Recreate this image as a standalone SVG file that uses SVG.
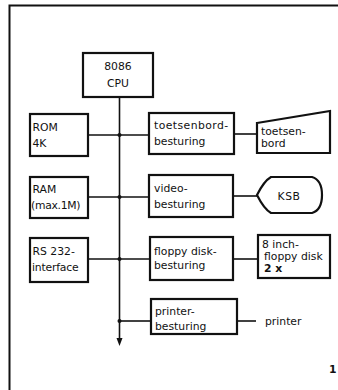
<svg xmlns="http://www.w3.org/2000/svg" width="338" height="390" viewBox="0 0 338 390">
<defs>
<style>
.box{fill:#fff;stroke:#111;stroke-width:2.2}
.ln{fill:none;stroke:#111;stroke-width:1.6}
text{font-family:"DejaVu Sans","Liberation Sans",sans-serif;font-size:10.8px;fill:#111}
.c{text-anchor:middle}
</style>
</defs>
<rect width="338" height="390" fill="#fff"/>
<path d="M9.5,390 V5.5 H338" fill="none" stroke="#111" stroke-width="2"/>
<g id="connectors">
<path class="ln" d="M119.5,97 V338"/>
<path d="M116.5,338 L122.5,338 L119.5,346 Z" fill="#111"/>
<path class="ln" d="M88,135 H149"/>
<path class="ln" d="M88,197 H149"/>
<path class="ln" d="M88,259 H150"/>
<path class="ln" d="M119.5,321 H151"/>
<path class="ln" d="M234,134 H257"/>
<path class="ln" d="M233,196 H257"/>
<path class="ln" d="M233,259 H258"/>
<path class="ln" d="M237,321 H256"/>
<circle cx="119.5" cy="135" r="2" fill="#111"/>
<circle cx="119.5" cy="197" r="2" fill="#111"/>
<circle cx="119.5" cy="259" r="2" fill="#111"/>
<circle cx="119.5" cy="321" r="2" fill="#111"/>
</g>
<g id="cpu">
<rect class="box" x="83" y="53" width="70" height="44"/>
<text class="c" x="118" y="69.5">8086</text>
<text class="c" x="118" y="86.5">CPU</text>
</g>
<g id="rom">
<rect class="box" x="30" y="114" width="58" height="42"/>
<text x="32.5" y="131">ROM</text>
<text x="32.5" y="147">4K</text>
</g>
<g id="ram">
<rect class="box" x="30" y="177" width="58" height="41"/>
<text x="32.5" y="193">RAM</text>
<text x="31" y="209" letter-spacing="-0.3">(max.1M)</text>
</g>
<g id="rs232">
<rect class="box" x="30" y="238" width="58" height="44"/>
<text x="32.5" y="255">RS 232-</text>
<text x="32" y="270.5" letter-spacing="-0.2">interface</text>
</g>
<g id="toetsenbordbesturing">
<rect class="box" x="149" y="113" width="85" height="41"/>
<text x="154" y="129" letter-spacing="0.45">toetsenbord-</text>
<text x="154" y="145">besturing</text>
</g>
<g id="videobesturing">
<rect class="box" x="149" y="175" width="84" height="42"/>
<text x="154" y="192">video-</text>
<text x="154" y="207.5">besturing</text>
</g>
<g id="floppybesturing">
<rect class="box" x="150" y="237" width="83" height="43"/>
<text x="154" y="255">floppy disk-</text>
<text x="154" y="268.5">besturing</text>
</g>
<g id="printerbesturing">
<rect class="box" x="151" y="299" width="86" height="35"/>
<text x="155" y="315">printer-</text>
<text x="155" y="330">besturing</text>
</g>
<g id="toetsenbord">
<path class="box" d="M257,123 L330,111 L330,153 L257,153 Z"/>
<text x="261" y="135">toetsen-</text>
<text x="261" y="147">bord</text>
</g>
<g id="ksb">
<path class="box" d="M257,195 Q264,181 271,177 H312 Q322,180 322,195 Q322,210 312,213 H271 Q264,209 257,195 Z"/>
<text class="c" x="289" y="199.5" letter-spacing="0.5">KSB</text>
</g>
<g id="floppy">
<rect class="box" x="258" y="235" width="72" height="43"/>
<text x="262" y="247.5">8 inch-</text>
<text x="264" y="260">floppy disk</text>
<text x="264" y="272" font-weight="bold" font-size="10">2 x</text>
</g>
<g id="printer">
<text x="265" y="325">printer</text>
</g>
<text x="329" y="373" font-weight="bold" font-size="15">1</text>
</svg>
